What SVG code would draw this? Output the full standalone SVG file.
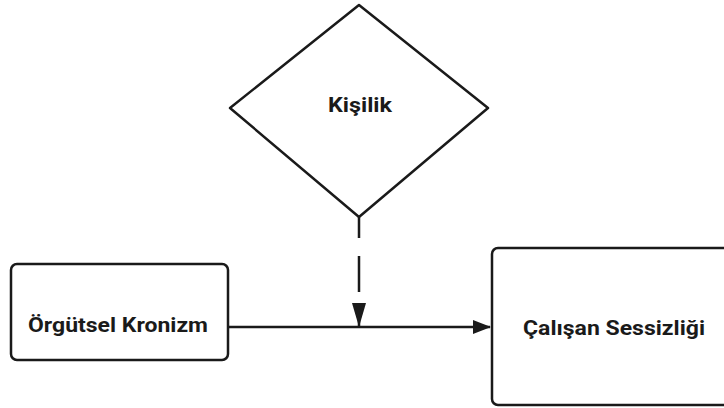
<svg xmlns="http://www.w3.org/2000/svg" width="724" height="408" viewBox="0 0 724 408">
<style>
.shape{fill:#fff;stroke:#1a1a1a;stroke-width:2.5;stroke-linejoin:round}
.lbl{font-family:Roboto,"Liberation Sans",sans-serif;font-weight:bold;font-size:21px;fill:#1a1a1a;text-anchor:middle}
.conn{stroke:#1a1a1a;stroke-width:2.5;fill:none}
</style>
<defs>
<marker id="ah2" markerWidth="18" markerHeight="14" refX="17" refY="7" orient="auto" markerUnits="userSpaceOnUse" viewBox="0 0 18 14">
<path d="M0,0 L18,7 L0,14 Z" fill="#1a1a1a"/>
</marker>
<marker id="ah3" markerWidth="24" markerHeight="14" refX="23" refY="7" orient="auto" markerUnits="userSpaceOnUse" viewBox="0 0 24 14">
<path d="M0,0 L24,7 L0,14 Z" fill="#1a1a1a"/>
</marker>
</defs>
<rect width="724" height="408" fill="#fff"/>
<g id="connectors">
<line class="conn" x1="229" y1="327" x2="490" y2="327" marker-end="url(#ah2)"/>
<line class="conn" x1="359" y1="217" x2="359" y2="326" stroke-dasharray="21,18,36,18" marker-end="url(#ah3)"/>
</g>
<g id="kisilik">
<path class="shape" d="M359,5 L488,108 L359,217 L230,108 Z"/>
<text class="lbl" x="360" y="112" textLength="64" lengthAdjust="spacingAndGlyphs">Kişilik</text>
</g>
<g id="orgutsel-kronizm">
<rect class="shape" x="11" y="264" width="217" height="96" rx="6"/>
<text class="lbl" x="118" y="332" textLength="180" lengthAdjust="spacingAndGlyphs">Örgütsel Kronizm</text>
</g>
<g id="calisan-sessizligi">
<rect class="shape" x="492" y="248" width="250" height="157" rx="6"/>
<text class="lbl" x="614" y="335" textLength="182" lengthAdjust="spacingAndGlyphs">Çalışan Sessizliği</text>
</g>
</svg>
